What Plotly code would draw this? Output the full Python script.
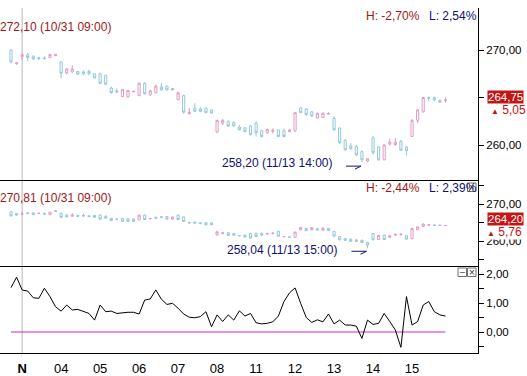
import plotly.graph_objects as go

# ---------------- data ----------------
day_labels = ["N", "04", "05", "06", "07", "08", "11", "12", "13", "14", "15"]
bars_per_day = 7
first_day_bar = 2

main_open = [270.0, 268.55, 269.3, 269.5, 269.35, 269.2, 269.15, 269.2, 269.4,
             268.75, 267.6, 267.7, 267.75, 267.7, 267.75, 267.5,
             267.5, 267.3, 266.0, 265.7, 265.1, 265.05, 265.6,
             265.2, 266.5, 265.3, 265.5, 266.1, 266.2, 265.95,
             264.8, 265.2, 263.3, 263.9, 263.8, 263.9, 263.7,
             261.35, 262.3, 262.5, 262.4, 261.9, 261.8, 262.0,
             262.3, 261.5, 261.3, 261.45, 261.6, 261.5, 261.4,
             261.5, 263.9, 263.8, 263.5, 262.85, 262.9, 263.25,
             262.8, 261.8, 260.5, 259.9, 259.85, 259.3, 258.3,
             260.75, 259.8, 258.45, 260.1, 260.05, 260.4, 259.8,
             260.9, 262.6, 263.5, 265.0, 265.0, 264.7, 264.7]
main_high = [270.05, 268.7, 269.7, 269.7, 269.45, 269.3, 269.35, 269.55, 269.55,
             268.8, 268.1, 268.4, 267.8, 267.85, 267.95, 267.5,
             267.6, 267.4, 266.15, 265.95, 265.9, 265.8, 265.7,
             266.6, 266.6, 265.8, 266.35, 266.55, 266.25, 266.0,
             265.6, 265.3, 263.9, 264.4, 264.0, 263.9, 263.7,
             262.65, 262.75, 262.55, 262.45, 262.1, 261.9, 262.1,
             262.5, 261.6, 261.7, 261.75, 261.6, 261.75, 261.6,
             263.5, 264.0, 263.9, 263.5, 263.4, 263.4, 263.45,
             263.05, 261.8, 260.6, 260.2, 260.0, 259.45, 258.6,
             260.95, 259.9, 260.1, 260.7, 260.7, 260.5, 259.85,
             262.7, 263.8, 265.05, 265.1, 265.1, 264.75, 265.0]
main_low = [268.6, 268.45, 268.95, 268.85, 268.95, 268.95, 269.0, 269.2, 269.4,
            267.0, 267.4, 267.6, 267.4, 267.4, 267.35, 267.05,
            266.4, 266.3, 265.4, 265.45, 265.05, 265.0, 265.55,
            265.15, 265.3, 265.15, 265.45, 265.75, 265.75, 265.75,
            264.7, 263.3, 263.2, 263.45, 263.45, 263.4, 263.35,
            261.3, 262.1, 261.9, 261.95, 261.55, 261.4, 261.0,
            260.9, 260.8, 261.2, 261.2, 260.9, 260.8, 261.4,
            261.4, 263.35, 263.1, 263.0, 262.8, 262.85, 263.2,
            261.5, 260.1, 259.4, 259.5, 258.85, 258.2, 258.25,
            259.0, 258.35, 258.4, 259.95, 259.9, 259.4, 258.9,
            260.85, 262.3, 263.4, 264.6, 264.6, 264.45, 264.45]
main_close = [268.75, 268.65, 269.5, 269.2, 269.05, 269.1, 269.1, 269.55, 269.55,
              267.55, 268.0, 268.0, 267.45, 267.5, 267.5, 267.05,
              266.5, 266.4, 265.5, 265.6, 265.85, 265.75, 265.65,
              266.5, 265.4, 265.7, 266.2, 265.8, 265.8, 265.8,
              265.5, 263.45, 263.45, 263.55, 263.55, 263.4, 263.35,
              262.6, 262.6, 262.0, 262.0, 261.6, 261.4, 261.1,
              261.3, 260.9, 261.65, 261.55, 260.9, 260.9, 261.6,
              263.4, 263.4, 263.2, 263.05, 263.35, 263.35, 263.3,
              261.6, 260.25, 259.5, 259.6, 258.95, 258.45, 258.55,
              259.2, 258.45, 260.0, 260.3, 260.3, 259.45, 259.4,
              262.6, 263.7, 265.0, 264.9, 264.75, 264.5, 264.75]

sub_open = [267.9, 267.4, 267.2, 267.6, 267.6, 267.45, 267.5, 267.1, 268.05,
            267.5, 267.0, 266.7, 266.9, 266.9, 266.8, 266.9,
            267.0, 266.6, 266.1, 265.95, 266.1, 266.0, 265.9,
            265.7, 267.0, 266.0, 266.4, 266.5, 266.6, 265.9,
            267.0, 266.5, 265.0, 265.1, 264.9, 264.95, 264.9,
            261.6, 262.0, 262.25, 262.0, 261.5, 261.6, 262.0,
            262.0, 262.1, 261.9, 262.0, 262.6, 261.15, 261.1,
            261.0, 263.0, 263.4, 263.0, 263.3, 262.9, 263.4,
            262.6, 261.2, 260.6, 260.5, 260.3, 260.2, 259.6,
            262.0, 260.4, 261.6, 261.0, 261.6, 261.7, 261.5,
            260.6, 263.0, 263.9, 264.3, 264.3, 264.25, 264.15]
sub_high = [268.0, 267.45, 267.9, 267.65, 267.65, 267.55, 267.6, 267.85, 268.2,
            267.6, 267.35, 267.5, 267.1, 267.4, 267.0, 266.95,
            267.2, 267.0, 266.15, 266.0, 266.15, 266.1, 266.0,
            267.1, 267.1, 266.2, 266.6, 266.8, 266.65, 266.6,
            267.1, 266.6, 265.2, 265.3, 265.0, 265.0, 265.0,
            262.6, 262.5, 262.3, 262.1, 261.6, 261.65, 262.1,
            262.3, 262.25, 262.25, 262.4, 262.8, 261.3, 261.2,
            262.5, 263.75, 263.45, 263.7, 263.5, 263.6, 263.45,
            262.7, 261.3, 260.8, 260.7, 260.5, 260.3, 259.7,
            262.1, 261.6, 261.7, 261.6, 262.1, 262.1, 261.6,
            263.6, 264.0, 264.7, 264.5, 264.4, 264.5, 264.3]
sub_low = [266.7, 266.95, 267.0, 267.2, 267.05, 267.4, 267.0, 267.05, 268.0,
           266.3, 266.4, 266.6, 266.6, 266.6, 266.55, 266.35,
           265.85, 266.1, 265.45, 265.8, 265.2, 265.25, 265.2,
           265.6, 265.7, 265.9, 266.1, 266.4, 265.85, 265.85,
           265.7, 265.2, 264.8, 264.8, 264.6, 264.3, 264.3,
           261.5, 261.85, 261.35, 261.4, 261.2, 261.0, 260.7,
           261.1, 261.35, 261.8, 261.8, 261.2, 261.1, 260.95,
           260.95, 262.95, 262.75, 262.9, 262.8, 262.8, 262.75,
           261.2, 260.2, 260.0, 259.8, 259.75, 259.4, 258.04,
           260.2, 260.3, 260.3, 260.8, 261.5, 261.4, 260.4,
           260.5, 262.9, 263.8, 264.2, 264.2, 264.1, 264.1]
sub_close = [266.75, 267.0, 267.3, 267.5, 267.1, 267.5, 267.3, 267.8, 268.1,
             266.4, 266.5, 267.0, 266.7, 266.8, 266.6, 266.4,
             265.9, 266.2, 265.5, 265.9, 265.3, 265.3, 265.3,
             267.0, 265.8, 266.1, 266.2, 266.45, 265.9, 266.5,
             265.8, 265.3, 264.9, 264.85, 264.7, 264.35, 264.4,
             262.5, 262.2, 261.5, 261.6, 261.45, 261.05, 260.8,
             261.2, 261.6, 261.95, 262.1, 261.3, 261.2, 261.0,
             262.4, 263.7, 262.8, 263.6, 263.0, 263.5, 262.8,
             261.3, 260.3, 260.2, 259.9, 259.9, 259.6, 258.9,
             260.3, 261.5, 260.4, 261.4, 261.7, 261.8, 260.5,
             263.4, 263.8, 264.6, 264.35, 264.25, 264.2, 264.2]

spread = [1.53, 1.89, 1.45, 1.41, 1.18, 1.16, 1.51, 1.22, 0.87,
          0.72, 0.93, 0.76, 0.78, 0.70, 0.64, 0.41,
          0.93, 0.70, 0.72, 0.64, 0.67, 0.68, 0.68,
          0.62, 1.10, 1.14, 1.45, 1.13, 0.95, 0.99,
          0.82, 0.62, 0.51, 0.49, 0.53, 0.70, 0.18,
          0.59, 0.36, 0.59, 0.41, 0.73, 0.55, 0.64,
          0.32, 0.28, 0.30, 0.35, 0.55, 1.05, 1.35,
          1.52, 0.99, 0.50, 0.33, 0.42, 0.35, 0.62,
          0.28, 0.41, 0.24, 0.24, 0.20, -0.22, 0.41,
          0.26, 0.30, 0.64, 0.36, 0.07, -0.53, 1.22,
          0.24, 0.36, 0.93, 1.05, 0.70, 0.59, 0.55]

main_hi_text = "272,10 (10/31 09:00)"
main_hi_val = 272.10
main_lo_text = "258,20 (11/13 14:00)"
main_lo_idx = 63
main_hl = ("H: -2,70%", "L: 2,54%")
main_last_text = "264,75"
main_chg = "5,05"
sub_hi_text = "270,81 (10/31 09:00)"
sub_hi_val = 270.81
sub_lo_text = "258,04 (11/13 15:00)"
sub_lo_idx = 64
sub_hl = ("H: -2,44%", "L: 2,39%")
sub_last_text = "264,20"
sub_chg = "5,76"

# ---------------- styling ----------------
UP = "#e39bc4"
DN = "#93c8da"
DARKRED = "#a01818"
NAVY = "#101070"
BOXRED = "#c41414"
FONT = "Liberation Sans, Arial, sans-serif"
AFS = 12

W, H = 527, 376
ML, MR, MT, MB = 0, 49, 8, 23
PW, PH = W - ML - MR, H - MT - MB


def px_x(p):
    return (p - ML) / PW


def px_y(p):
    return (H - MB - p) / PH


n = len(main_open)
xs = list(range(n))
day_idx = [first_day_bar + k * bars_per_day for k in range(len(day_labels))]
ticktext = ["<b>%s</b>" % day_labels[0]] + day_labels[1:]

fig = go.Figure()
common = dict(whiskerwidth=0, hoverinfo="skip", showlegend=False,
              increasing=dict(line=dict(color=UP, width=1), fillcolor="white"),
              decreasing=dict(line=dict(color=DN, width=1), fillcolor="white"))
fig.add_trace(go.Candlestick(x=xs, open=main_open, high=main_high, low=main_low,
                             close=main_close, xaxis="x", yaxis="y", **common))
fig.add_trace(go.Candlestick(x=xs, open=sub_open, high=sub_high, low=sub_low,
                             close=sub_close, xaxis="x2", yaxis="y2", **common))
fig.add_trace(go.Scatter(x=xs, y=spread, mode="lines", xaxis="x3", yaxis="y3",
                         line=dict(color="black", width=1), hoverinfo="skip",
                         showlegend=False))

xr = [-1.975, 83.84]
d_bot = [0, px_y(266)]
d_mid = [px_y(266), px_y(180)]
d_top = [px_y(180), 1]

xax = dict(range=xr, showgrid=False, zeroline=False, showline=True,
           linecolor="black", linewidth=1, rangeslider=dict(visible=False),
           fixedrange=True)
yax = dict(side="right", showgrid=False, zeroline=False, showline=True,
           linecolor="black", linewidth=1, ticks="outside", ticklen=5,
           tickcolor="black", fixedrange=True,
           tickfont=dict(family=FONT, size=11.5, color="black"))

fig.update_layout(
    width=W, height=H, margin=dict(l=ML, r=MR, t=MT, b=MB),
    paper_bgcolor="white", plot_bgcolor="white", boxgap=0.45,
    font=dict(family=FONT, size=11.5),
    xaxis=dict(anchor="y", showticklabels=False, ticks="", **xax),
    xaxis2=dict(anchor="y2", matches="x", showticklabels=False, ticks="", **xax),
    xaxis3=dict(anchor="y3", matches="x", tickvals=day_idx, ticktext=ticktext,
                ticks="outside", ticklen=3, tickcolor="white",
                tickfont=dict(family=FONT, size=13, color="black"), **xax),
    yaxis=dict(domain=d_top, anchor="x", range=[256.32, 274.42],
               tickvals=[260, 265, 270], ticktext=["260,00", "", "270,00"], **yax),
    yaxis2=dict(domain=d_mid, anchor="x2", range=[253.24, 276.49],
                tickvals=[255, 260, 265, 270, 275],
                ticktext=["", "260,00", "", "270,00", ""], **yax),
    yaxis3=dict(domain=d_bot, anchor="x3", range=[-0.724, 2.276],
                tickvals=[-0.5, 0, 0.5, 1, 1.5, 2],
                ticktext=["", "0,00", "", "1,00", "", "2,00"], **yax),
)

shapes = []
# day separator (first day)
shapes.append(dict(type="line", xref="x", yref="paper", x0=day_idx[0], x1=day_idx[0],
                   y0=px_y(357), y1=1, line=dict(color="#b8b8b8", width=1), layer="below"))
# zero line in bottom panel
shapes.append(dict(type="line", xref="x3", yref="y3", x0=xs[0], x1=xs[-1], y0=0, y1=0,
                   line=dict(color="#c828c8", width=1), layer="below"))
# low arrows
for xa, ya, idx, lv, dy in [("x", "y", main_lo_idx, main_low[main_lo_idx], -4),
                            ("x2", "y2", sub_lo_idx, sub_low[sub_lo_idx], -3)]:
    shapes.append(dict(type="line", xref=xa, yref=ya, xsizemode="pixel", ysizemode="pixel",
                       xanchor=idx, yanchor=lv, x0=-16, x1=-1, y0=dy, y1=dy,
                       line=dict(color=NAVY, width=1)))
    shapes.append(dict(type="line", xref=xa, yref=ya, xsizemode="pixel", ysizemode="pixel",
                       xanchor=idx, yanchor=lv, x0=-7, x1=-1, y0=dy - 3, y1=dy,
                       line=dict(color=NAVY, width=1)))
# small window buttons
for (bx, by) in [(458, 268), (467.5, 268), (467.5, 183)]:
    shapes.append(dict(type="rect", xref="paper", yref="paper",
                       x0=px_x(bx), x1=px_x(bx + 8.5), y0=px_y(by + 8.5), y1=px_y(by),
                       line=dict(color="#707070", width=1), fillcolor="rgba(255,255,255,0.6)"))
fig.update_layout(shapes=shapes)

ann = []


def txt(text, x, y, color, xanchor="left", xref="paper", yref="paper", **kw):
    ann.append(dict(text=text, x=x, y=y, xref=xref, yref=yref, xanchor=xanchor,
                    yanchor="middle", showarrow=False,
                    font=dict(family=FONT, size=kw.pop("size", AFS), color=color), **kw))


# top panel texts
txt(main_hi_text, px_x(113), main_hi_val, DARKRED, xanchor="right", yref="y", yshift=3)
txt(main_hl[0], px_x(364), px_y(16), DARKRED)
txt(main_hl[1], px_x(427), px_y(16), NAVY)
txt(main_lo_text, main_lo_idx, main_low[main_lo_idx], NAVY, xanchor="right",
    xref="x", yref="y", xshift=-27, yshift=-1)
txt(main_last_text, px_x(487), main_close[-1], "white", yref="y",
    yshift=3, bgcolor=BOXRED, borderpad=0, size=11.5)
txt("<span style='font-size:8px'>▲</span> " + main_chg, px_x(489), main_close[-1],
    BOXRED, yref="y", yshift=-10)
# middle panel texts
txt(sub_hi_text, px_x(113), sub_hi_val, DARKRED, xanchor="right", yref="y2", yshift=3)
txt(sub_hl[0], px_x(364), px_y(188), DARKRED)
txt(sub_hl[1], px_x(427), px_y(188), NAVY)
txt(sub_lo_text, sub_lo_idx, sub_low[sub_lo_idx], NAVY, xanchor="right",
    xref="x", yref="y2", xshift=-27, yshift=-2)
txt("<span style='font-size:8px'>▲</span> " + sub_chg, px_x(486), sub_close[-1],
    BOXRED, yref="y2", yshift=-7, bgcolor="white", borderpad=0)
txt(sub_last_text, px_x(487), sub_close[-1], "white", yref="y2", yshift=6,
    bgcolor=BOXRED, borderpad=0, size=11.5)
# button glyphs
txt("–", px_x(462.2), px_y(272.2), "#303030", xanchor="center", size=9)
txt("×", px_x(471.8), px_y(272.2), "#303030", xanchor="center", size=10)
txt("×", px_x(471.8), px_y(187.2), "#303030", xanchor="center", size=10)

fig.update_layout(annotations=ann)
fig.write_html("out.html", config={"displayModeBar": False, "staticPlot": True},
               post_script="document.body.style.margin='0';document.body.style.overflow='hidden';")
